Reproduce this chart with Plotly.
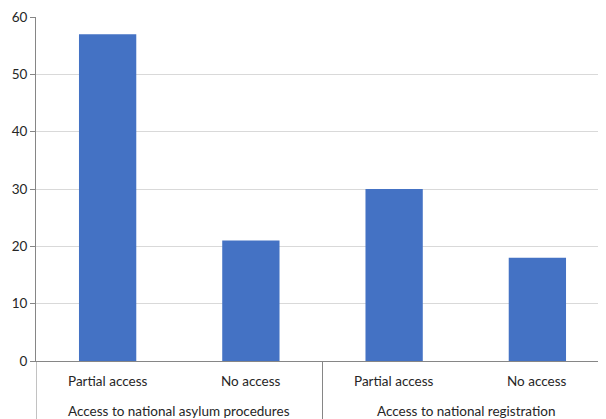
import plotly.graph_objects as go

groups = ["Access to national asylum procedures", "Access to national asylum procedures",
          "Access to national registration", "Access to national registration"]
categories = ["Partial access", "No access", "Partial access", "No access"]
values = [57, 21, 30, 18]
y_ticks = [0, 10, 20, 30, 40, 50, 60]

font = dict(family="Lato, Carlito, Calibri, Arial", size=13.5, color="#262626")
axis_grey = "#868686"

fig = go.Figure(go.Bar(
    x=[groups, categories],
    y=values,
    marker=dict(color="#4472C4", line=dict(width=0)),
    width=0.4,
))

# inner category labels
for i, cat in enumerate(categories):
    fig.add_annotation(x=i, y=0, xref="x", yref="paper", text=cat,
                       showarrow=False, yanchor="middle", yshift=-20, font=font)

# group labels and dividers
unique_groups = []
for g in groups:
    if g not in unique_groups:
        unique_groups.append(g)
bounds = [-0.5]
for g in unique_groups:
    idx = [i for i, gg in enumerate(groups) if gg == g]
    fig.add_annotation(x=(idx[0] + idx[-1]) / 2, y=0, xref="x", yref="paper", text=g,
                       showarrow=False, yanchor="middle", yshift=-50, font=font)
    bounds.append(idx[-1] + 0.5)
for b in bounds:
    fig.add_shape(type="line", xref="x", yref="paper", x0=b, x1=b, y0=0, y1=-0.2,
                  line=dict(color=axis_grey, width=1))

# page body has an 8px margin; figure sized to fill the 606x419 window
fig.update_layout(
    width=598, height=411,
    margin=dict(l=28, r=0, t=9, b=58),
    paper_bgcolor="white", plot_bgcolor="white",
    font=font,
    showlegend=False,
)
fig.update_xaxes(
    type="multicategory",
    range=[-0.5, 3.479],
    showline=True, linecolor=axis_grey, linewidth=1,
    showdividers=False, showticklabels=False,
    ticks="",
    automargin=False,
)
fig.update_yaxes(
    range=[0, 60],
    tickvals=y_ticks,
    showline=True, linecolor=axis_grey, linewidth=1,
    ticks="outside", ticklen=5, tickcolor=axis_grey,
    showgrid=True, gridcolor="#d9d9d9", gridwidth=1,
    zeroline=False,
    tickfont=font,
    automargin=False,
)

fig.write_html("out.html")
